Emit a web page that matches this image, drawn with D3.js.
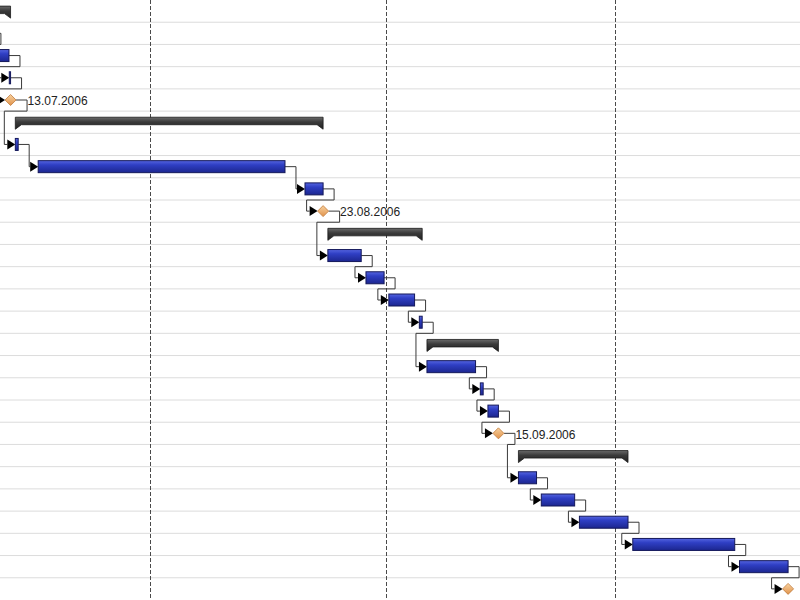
<!DOCTYPE html>
<html>
<head>
<meta charset="utf-8">
<script src="https://cdn.jsdelivr.net/npm/d3@7"></script>
<style>
  html, body { margin: 0; padding: 0; background: #fff; }
  #chart { width: 800px; height: 600px; overflow: hidden; }
</style>
</head>
<body>
<div id="chart"></div>
<script>
// Row kinds, top to bottom
const taskType = [
  'summary', 'task', 'task', 'task', 'milestone',
  'summary', 'task', 'task', 'task', 'milestone',
  'summary', 'task', 'task', 'task', 'task',
  'summary', 'task', 'task', 'task', 'milestone',
  'summary', 'task', 'task', 'task', 'task', 'task', 'milestone'
];

// Start / end of every row (milestones use their start only)
const taskStart = [
  '2006-07-03T08:00', '2006-07-10T08:00', '2006-07-11T08:00', '2006-07-13T13:00', '2006-07-13T17:00',
  '2006-07-14T08:00', '2006-07-14T08:00', '2006-07-17T08:00', '2006-08-21T08:00', '2006-08-23T17:00',
  '2006-08-24T08:00', '2006-08-24T08:00', '2006-08-29T08:00', '2006-09-01T08:00', '2006-09-05T08:00',
  '2006-09-06T08:00', '2006-09-06T08:00', '2006-09-13T08:00', '2006-09-14T08:00', '2006-09-15T17:00',
  '2006-09-18T08:00', '2006-09-18T08:00', '2006-09-21T08:00', '2006-09-26T08:00', '2006-10-03T08:00',
  '2006-10-17T08:00', '2006-10-23T17:00'
];
const taskEnd = [
  '2006-07-13T17:00', '2006-07-11T00:00', '2006-07-13T12:00', '2006-07-13T17:00', '2006-07-13T17:00',
  '2006-08-23T17:00', '2006-07-14T17:00', '2006-08-18T17:00', '2006-08-23T17:00', '2006-08-23T17:00',
  '2006-09-05T17:00', '2006-08-28T17:00', '2006-08-31T17:00', '2006-09-04T17:00', '2006-09-05T17:00',
  '2006-09-15T17:00', '2006-09-12T17:00', '2006-09-13T17:00', '2006-09-15T17:00', '2006-09-15T17:00',
  '2006-10-02T17:00', '2006-09-20T17:00', '2006-09-25T17:00', '2006-10-02T17:00', '2006-10-16T17:00',
  '2006-10-23T17:00', '2006-10-23T17:00'
];

// Finish-to-start links [from row, to row]
const links = [
  [1, 2], [2, 3], [3, 4], [4, 6], [6, 7], [7, 8], [8, 9], [9, 11],
  [11, 12], [12, 13], [13, 14], [14, 16], [16, 17], [17, 18], [18, 19],
  [19, 21], [21, 22], [22, 23], [23, 24], [24, 25], [25, 26]
];

// Month separators and visible time window
const monthLines = ['2006-08-01T00:00', '2006-09-01T00:00', '2006-10-01T00:00'];
const viewRange = ['2006-07-12T07:45', '2006-10-25T06:30'];

const parse = d3.timeParse('%Y-%m-%dT%H:%M');
const fmt = d3.timeFormat('%d.%m.%Y');

const width = 800;
const height = 600;

const rows = taskType.map((t, i) => ({
  i,
  type: t,
  start: parse(taskStart[i]),
  end: parse(taskEnd[i])
}));

const x = d3.scaleTime()
  .domain(viewRange.map(parse))
  .range([0, width]);

const y = d3.scaleBand()
  .domain(d3.range(rows.length))
  .range([0, height])
  .paddingInner(0)
  .paddingOuter(0);

const rowH = y.bandwidth();
const cy = i => y(i) + rowH / 2;

const svg = d3.select('#chart')
  .append('svg')
  .attr('width', width)
  .attr('height', height)
  .style('background', '#fff');

// Gradients
const defs = svg.append('defs');

const blue = defs.append('linearGradient')
  .attr('id', 'gBlue').attr('x1', 0).attr('y1', 0).attr('x2', 0).attr('y2', 1);
blue.append('stop').attr('offset', '0%').attr('stop-color', '#5565e0');
blue.append('stop').attr('offset', '35%').attr('stop-color', '#2f3fc4');
blue.append('stop').attr('offset', '100%').attr('stop-color', '#1c268f');

const grey = defs.append('linearGradient')
  .attr('id', 'gGrey').attr('x1', 0).attr('y1', 0).attr('x2', 0).attr('y2', 1);
grey.append('stop').attr('offset', '0%').attr('stop-color', '#6a6a6a');
grey.append('stop').attr('offset', '40%').attr('stop-color', '#3a3a3a');
grey.append('stop').attr('offset', '100%').attr('stop-color', '#222');

const tan = defs.append('linearGradient')
  .attr('id', 'gTan').attr('x1', 0).attr('y1', 0).attr('x2', 0).attr('y2', 1);
tan.append('stop').attr('offset', '0%').attr('stop-color', '#f8d2a0');
tan.append('stop').attr('offset', '100%').attr('stop-color', '#e0924a');

// Horizontal row lines
svg.append('g')
  .selectAll('line')
  .data(d3.range(1, rows.length))
  .enter()
  .append('line')
  .attr('x1', 0)
  .attr('x2', width)
  .attr('y1', d => y(d))
  .attr('y2', d => y(d))
  .style('stroke', '#dcdcdc')
  .style('stroke-width', 1);

// Month lines
svg.append('g')
  .selectAll('line')
  .data(monthLines.map(parse))
  .enter()
  .append('line')
  .attr('x1', d => Math.round(x(d)) + 0.5)
  .attr('x2', d => Math.round(x(d)) + 0.5)
  .attr('y1', 0)
  .attr('y2', height)
  .style('stroke', '#4a4a4a')
  .style('stroke-width', 1)
  .style('stroke-dasharray', '4,2');

// Geometry helpers
const MS = 5.5;     // milestone half size
const OUT = 11;     // link stub length
const ARROW = 8;

function rightEdge(r) {
  return r.type === 'milestone' ? x(r.start) + MS : x(r.end);
}
function leftEdge(r) {
  return r.type === 'milestone' ? x(r.start) - MS : x(r.start);
}

// Dependency links
const linkG = svg.append('g');
links.forEach(([a, b]) => {
  const from = rows[a];
  const to = rows[b];
  const x0 = rightEdge(from);
  const xOut = x0 + OUT;
  const xIn = leftEdge(to);
  const xBack = xIn - OUT;
  const y0 = cy(a);
  const y1 = cy(b);
  let pts;
  if (xBack >= xOut - 4) {
    pts = [[x0, y0], [xOut, y0], [xOut, y1], [xIn - ARROW, y1]];
  } else {
    const yb = y(a) + rowH;
    pts = [[x0, y0], [xOut, y0], [xOut, yb], [xBack, yb], [xBack, y1], [xIn - ARROW, y1]];
  }
  linkG.append('path')
    .attr('d', d3.line()(pts))
    .style('fill', 'none')
    .style('stroke', '#3a3a3a')
    .style('stroke-width', 1);

  // Arrow head
  linkG.append('path')
    .attr('d', `M${xIn - ARROW},${y1 - 5}L${xIn},${y1}L${xIn - ARROW},${y1 + 5}Z`)
    .style('fill', '#000');
});

// Summary bars
svg.append('g')
  .selectAll('path')
  .data(rows.filter(r => r.type === 'summary'))
  .enter()
  .append('path')
  .attr('d', r => {
    const x0 = x(r.start);
    const x1 = x(r.end);
    const c = cy(r.i);
    const top = c - 5, bot = c + 2.5, tip = c + 7, tab = 6;
    return `M${x0},${top}H${x1}V${tip}L${x1 - tab},${bot}H${x0 + tab}L${x0},${tip}Z`;
  })
  .style('fill', 'url(#gGrey)')
  .style('stroke', '#1a1a1a')
  .style('stroke-width', 0.8);

// Task bars
svg.append('g')
  .selectAll('rect')
  .data(rows.filter(r => r.type === 'task'))
  .enter()
  .append('rect')
  .attr('x', r => x(r.start))
  .attr('y', r => cy(r.i) - 6)
  .attr('width', r => Math.max(1, x(r.end) - x(r.start)))
  .attr('height', 12)
  .style('fill', 'url(#gBlue)')
  .style('stroke', '#14185a')
  .style('stroke-width', 1);

// Milestones
const ms = rows.filter(r => r.type === 'milestone');
svg.append('g')
  .selectAll('path')
  .data(ms)
  .enter()
  .append('path')
  .attr('d', r => {
    const mx = x(r.start);
    const c = cy(r.i);
    return `M${mx},${c - MS}L${mx + MS},${c}L${mx},${c + MS}L${mx - MS},${c}Z`;
  })
  .style('fill', 'url(#gTan)')
  .style('stroke', '#c07a3a')
  .style('stroke-width', 0.8);

// Milestone date labels (only those that start inside the view)
svg.append('g')
  .selectAll('text')
  .data(ms.filter(r => x(r.start) + 17 < width - 60))
  .enter()
  .append('text')
  .attr('x', r => x(r.start) + 17)
  .attr('y', r => cy(r.i) + 1)
  .attr('dy', '0.35em')
  .style('font-family', 'Liberation Sans, Arial, sans-serif')
  .style('font-size', '12px')
  .style('fill', '#222')
  .text(r => fmt(r.start));
</script>
</body>
</html>
